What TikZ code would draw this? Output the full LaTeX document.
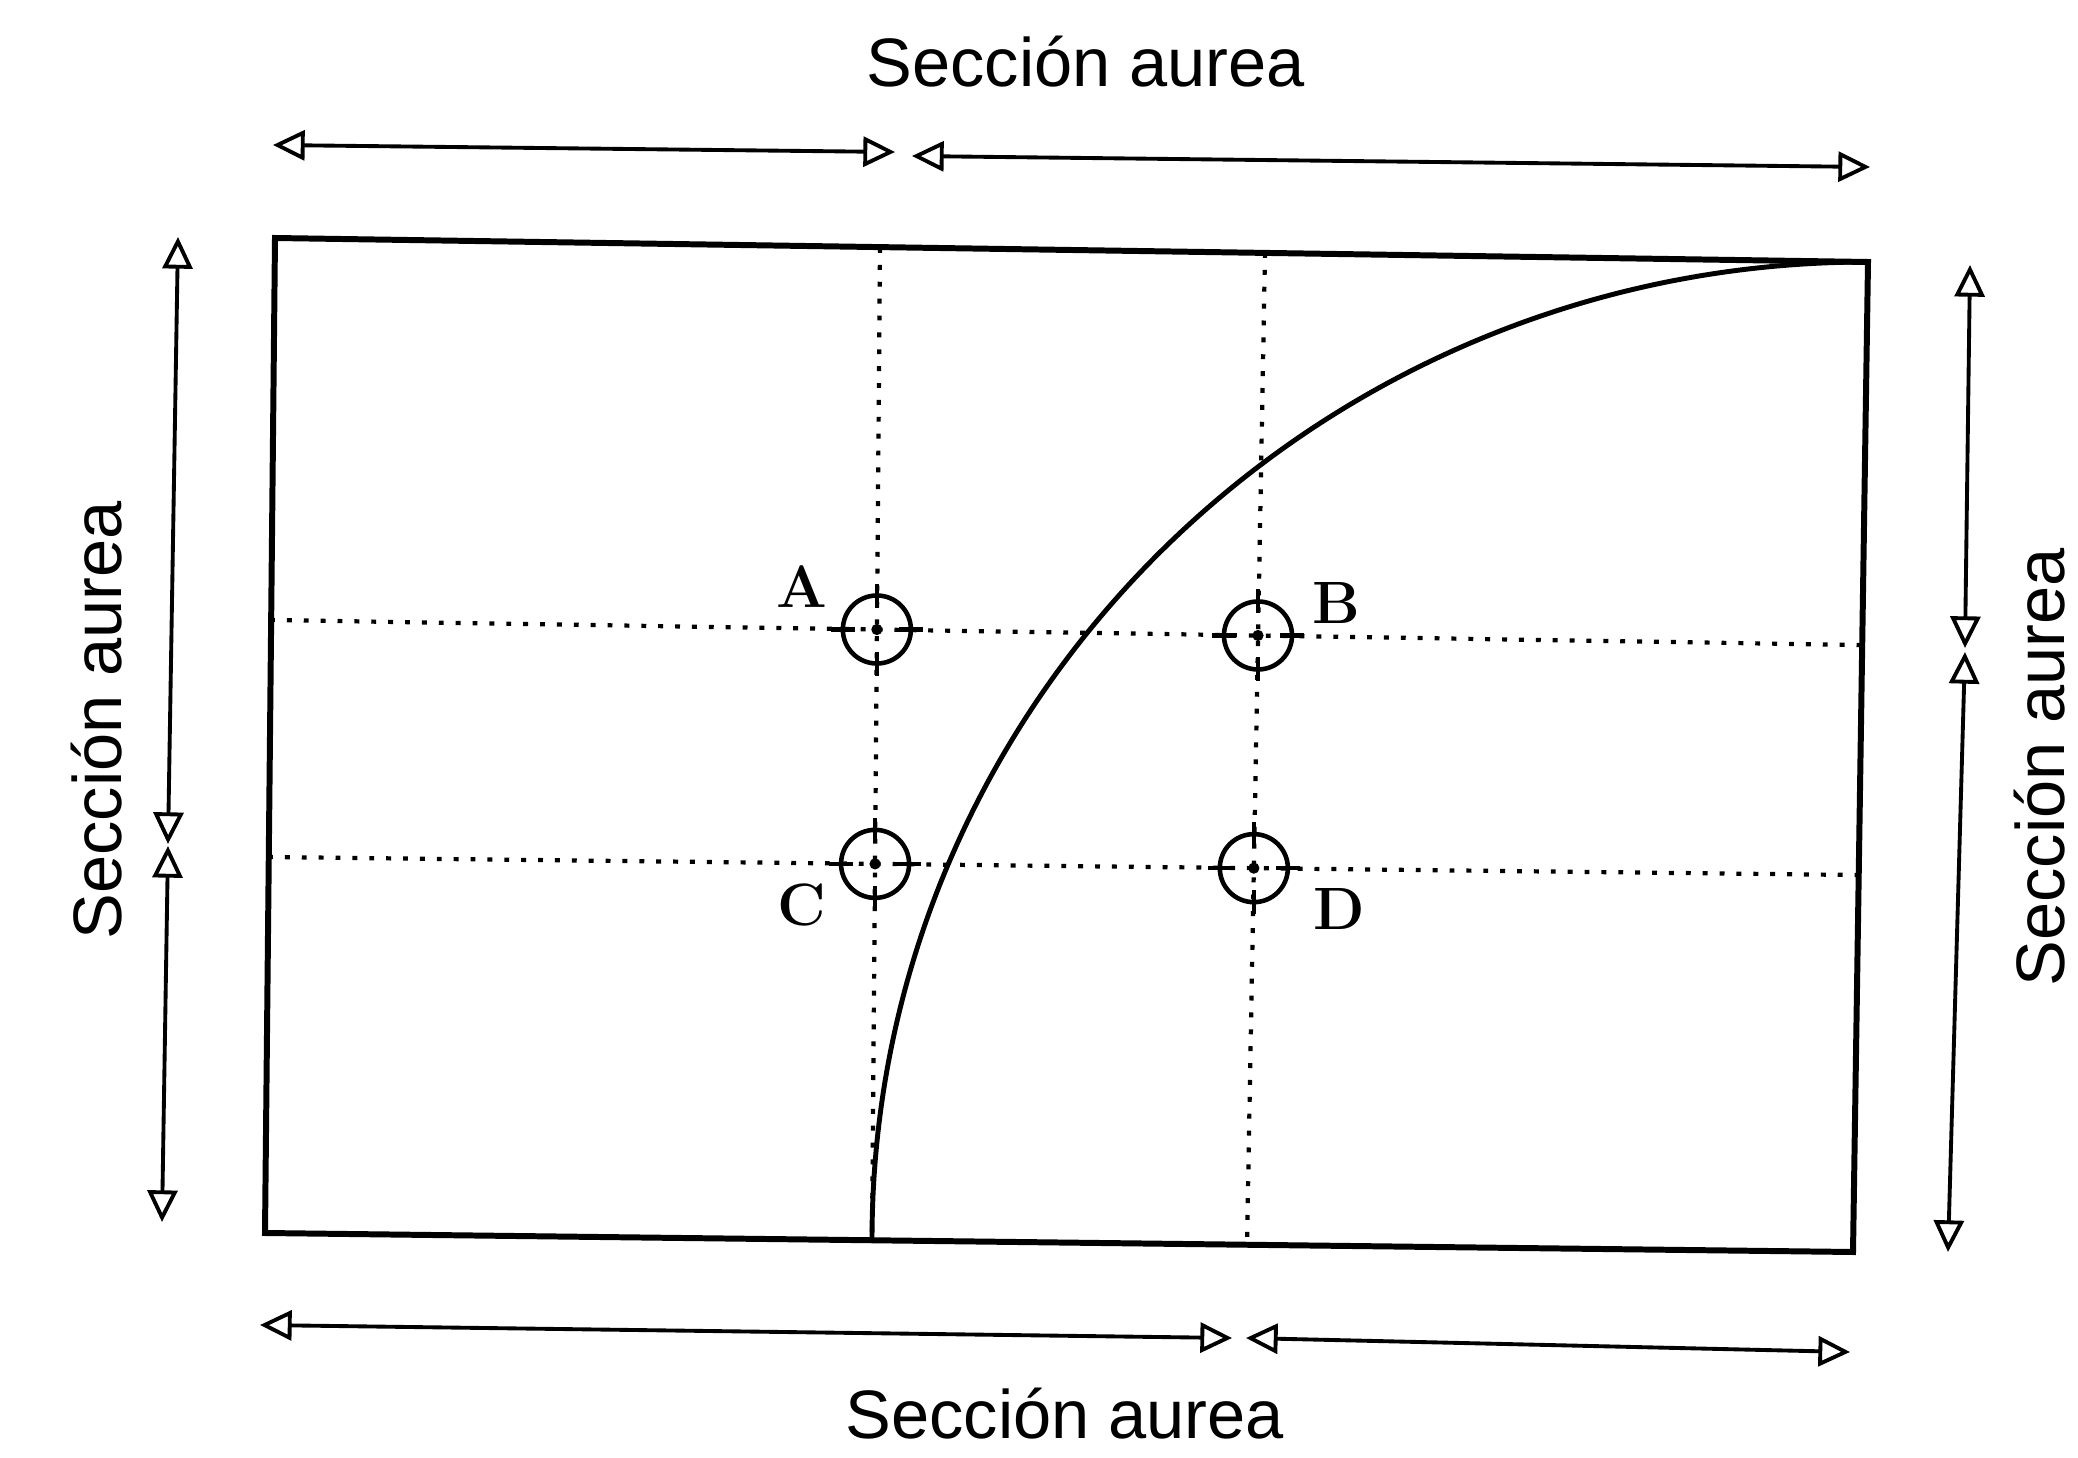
\documentclass[tikz,border=0pt]{standalone}
\usepackage{fontspec}
\usepackage{tikz}
\usetikzlibrary{arrows.meta,calc}
\newfontfamily\capfont{Liberation Sans}

\begin{document}
\begin{tikzpicture}[
  x=0.01cm, y=-0.01cm,
  frame/.style={line width=1.7pt, line join=miter},
  guide/.style={line width=1.2pt, dash pattern=on 1.4pt off 3.4pt},
  dim/.style={line width=1.1pt, {Triangle[open, length=9pt, width=8.5pt]}-{Triangle[open, length=9pt, width=8.5pt]}},
  target/.style={circle, draw, line width=1.3pt, minimum size=0.68cm, inner sep=0pt},
  tick/.style={line width=1.3pt},
  letter/.style={font=\fontsize{17}{20}\selectfont\bfseries, inner sep=0pt},
  caption/.style={font=\capfont\fontsize{19.5}{23}\selectfont, inner sep=0pt}
]
\useasboundingbox (0,0) rectangle (2078,1458);

% frame corners
\coordinate (tl) at (275,238);
\coordinate (tr) at (1868,262);
\coordinate (br) at (1853,1252);
\coordinate (bl) at (265,1233);
\draw[frame] (tl) -- (tr) -- (br) -- (bl) -- cycle;

% guide lines
\coordinate (v1t) at (880,248);
\coordinate (v1b) at (872,1240);
\coordinate (v2t) at (1265,253);
\coordinate (v2b) at (1247,1245);
\coordinate (h1l) at (270,620);
\coordinate (h1r) at (1860,645);
\coordinate (h2l) at (268,857);
\coordinate (h2r) at (1856,875);
\draw[guide] (v1t) -- (v1b);
\draw[guide] (v2t) -- (v2b);
\draw[guide] (h1l) -- (h1r);
\draw[guide] (h2l) -- (h2r);

% golden curve
\draw[frame, line width=1.4pt] (v1b) .. controls (872,700) and (1318,262) .. (tr);

% points
\node[target] (pA) at (intersection of v1t--v1b and h1l--h1r) {};
\node[target] (pB) at (intersection of v2t--v2b and h1l--h1r) {};
\node[target] (pC) at (intersection of v1t--v1b and h2l--h2r) {};
\node[target] (pD) at (intersection of v2t--v2b and h2l--h2r) {};
\foreach \p in {pA,pB,pC,pD} {
  \draw[tick] ($(\p)+(-46,0)$) -- ($(\p)+(-22,0)$);
  \draw[tick] ($(\p)+(22,0)$) -- ($(\p)+(46,0)$);
  \draw[tick] ($(\p)+(0,-46)$) -- ($(\p)+(0,-22)$);
  \draw[tick] ($(\p)+(0,22)$) -- ($(\p)+(0,46)$);
  \fill (\p) circle (1.6pt);
}
\node[letter] (lA) at (802,587) {A};
\node[letter] (lB) at (1336,603) {B};
\node[letter] (lC) at (802,905) {C};
\node[letter] (lD) at (1339,909) {D};

% dimension arrows
\coordinate (ta) at (273,145);
\coordinate (tb) at (895,152);
\coordinate (tc) at (912,156);
\coordinate (td) at (1870,167);
\draw[dim] (ta) -- (tb);
\draw[dim] (tc) -- (td);

\coordinate (ba) at (260,1325);
\coordinate (bb) at (1232,1338);
\coordinate (bc) at (1246,1338);
\coordinate (bd) at (1850,1352);
\draw[dim] (ba) -- (bb);
\draw[dim] (bc) -- (bd);

\coordinate (la) at (178,237);
\coordinate (lb) at (168,844);
\coordinate (lc) at (168,846);
\coordinate (ld) at (162,1222);
\draw[dim] (la) -- (lb);
\draw[dim] (lc) -- (ld);

\coordinate (ra) at (1970,265);
\coordinate (rb) at (1965,648);
\coordinate (rc) at (1965,652);
\coordinate (rd) at (1948,1252);
\draw[dim] (ra) -- (rb);
\draw[dim] (rc) -- (rd);

% captions
\node[caption] (capT) at (1086,62) {Sección aurea};
\node[caption] (capB) at (1065,1414) {Sección aurea};
\node[caption, rotate=90] (capL) at (97,720) {Sección aurea};
\node[caption, rotate=90] (capR) at (2040,767) {Sección aurea};
\end{tikzpicture}
\end{document}
